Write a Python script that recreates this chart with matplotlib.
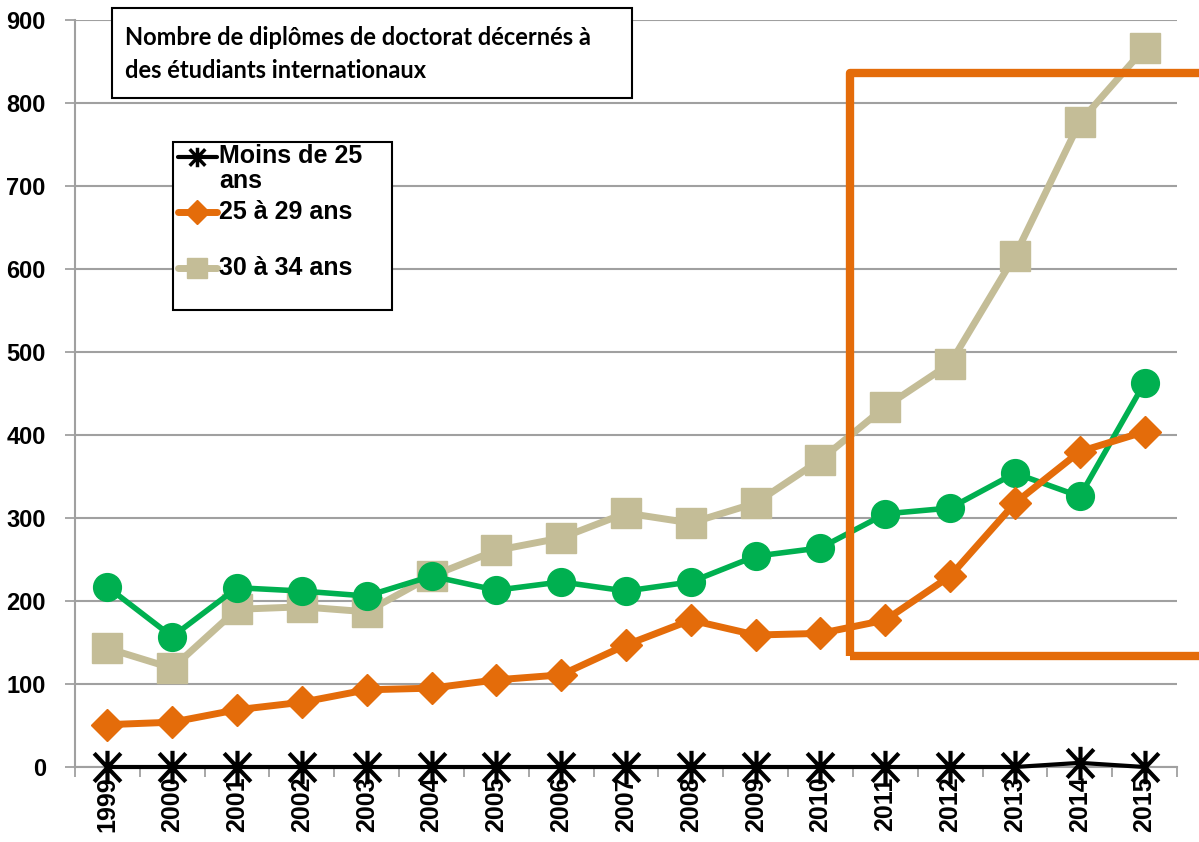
import matplotlib
matplotlib.use("Agg")
import matplotlib.pyplot as plt
from matplotlib.path import Path
from matplotlib.patches import Rectangle
from matplotlib.lines import Line2D

# données
annees = ['1999', '2000', '2001', '2002', '2003', '2004', '2005', '2006', '2007',
          '2008', '2009', '2010', '2011', '2012', '2013', '2014', '2015']
moins_25 = [0, 0, 0, 0, 0, 0, 0, 0, 0, 0, 0, 0, 0, 0, 0, 5, 0]
de_25_29 = [51, 54, 69, 78, 93, 95, 105, 111, 147, 177, 159, 161, 177, 230, 318, 380, 404]
de_30_34 = [143, 119, 190, 193, 187, 230, 261, 276, 306, 294, 318, 370, 434, 486, 616, 777, 866]
de_35_plus = [217, 157, 216, 212, 206, 230, 213, 223, 212, 223, 254, 264, 305, 312, 354, 326, 463]

VERT = '#00B050'
ORANGE = '#E46C0A'
BEIGE = '#C4BD97'
GRIS = '#A0A0A0'

plt.rcParams['font.family'] = ['Liberation Sans', 'DejaVu Sans']

# astérisque à 6 branches (style Excel)
etoile = Path([(0, -1), (0, 1), (-0.8, -0.85), (0.8, 0.85), (-0.8, 0.85), (0.8, -0.85)],
              [Path.MOVETO, Path.LINETO, Path.MOVETO, Path.LINETO, Path.MOVETO, Path.LINETO])

fig = plt.figure(figsize=(11.99, 8.42), dpi=100)
ax = fig.add_axes([75 / 1199, 1 - 767 / 842, 1102 / 1199, 747 / 842])

x = list(range(len(annees)))
ax.plot(x, de_30_34, color=BEIGE, lw=5, marker='s', ms=21, zorder=3)
ax.plot(x, de_35_plus, color=VERT, lw=4, marker='o', ms=20, zorder=4)
ax.plot(x, de_25_29, color=ORANGE, lw=5, marker='D', ms=16, zorder=5)
ax.plot(x, moins_25, color='black', lw=3, marker=etoile, ms=24, mew=3,
        mfc='none', mec='black', zorder=6, clip_on=False)

ax.set_xlim(-0.5, len(annees) - 0.5)
ax.set_ylim(0, 900)
ax.set_yticks(range(0, 901, 100))
ax.set_xticks(x)
ax.set_xticklabels(annees, rotation=90, fontsize=18, fontweight='bold')
ax.set_xticks([i - 0.5 for i in range(len(annees) + 1)], minor=True)
ax.tick_params(axis='x', which='major', length=0, pad=7)
ax.tick_params(axis='x', which='minor', length=7, color=GRIS, width=1.3)
ax.tick_params(axis='y', length=7, color=GRIS, width=1.3, labelsize=17, pad=14)
for lab in ax.get_yticklabels():
    lab.set_fontweight('bold')

ax.grid(axis='y', color=GRIS, lw=1.5)
ax.set_axisbelow(True)
for side in ['top', 'right']:
    ax.spines[side].set_visible(False)
ax.spines['left'].set_color(GRIS)
ax.spines['left'].set_linewidth(1.5)
ax.spines['bottom'].set_color(GRIS)
ax.spines['bottom'].set_linewidth(1.5)

# cadre de mise en évidence 2011-2015
cadre = Rectangle((11.46, 134), 6.5, 836 - 134, fill=False, ec=ORANGE, lw=6,
                  joinstyle='round', clip_on=False, zorder=7)
ax.add_patch(cadre)

# encadré du titre
fig.patches.append(Rectangle((112 / 1199, 1 - 98 / 842), 520 / 1199, 90 / 842,
                             transform=fig.transFigure, fill=True, fc='white',
                             ec='black', lw=1.5, zorder=8))
fig.text(125 / 1199, 1 - 54 / 842,
         'Nombre de diplômes de doctorat décernés à\ndes étudiants internationaux',
         fontsize=17, fontweight='bold', family=['Lato', 'DejaVu Sans'],
         va='center', ha='left', linespacing=1.5, zorder=9)

# légende
fig.patches.append(Rectangle((173 / 1199, 1 - 310 / 842), 219 / 1199, 168 / 842,
                             transform=fig.transFigure, fill=True, fc='white',
                             ec='black', lw=1.5, zorder=8))
entrees = [
    (157, 'Moins de 25\nans', 'black', etoile, 14, 2.5),
    (212, '25 à 29 ans', ORANGE, 'D', 12, 1),
    (268, '30 à 34 ans', BEIGE, 's', 14, 1),
]
for y_px, texte, couleur, marqueur, taille, epaisseur in entrees:
    yf = 1 - y_px / 842
    fig.add_artist(Line2D([178 / 1199, 217 / 1199], [yf, yf], transform=fig.transFigure,
                          color=couleur, lw=3 if couleur == 'black' else 5,
                          solid_capstyle='round', zorder=9))
    fig.add_artist(Line2D([197 / 1199], [yf], transform=fig.transFigure, ls='none',
                          color=couleur, marker=marqueur, ms=taille, mew=epaisseur,
                          mec=couleur, zorder=10))
    if '\n' in texte:
        fig.text(219 / 1199, yf + 13 / 842, texte, fontsize=18, fontweight='bold',
                 va='top', ha='left', linespacing=1.05, zorder=10)
    else:
        fig.text(219 / 1199, yf, texte, fontsize=18, fontweight='bold',
                 va='center', ha='left', zorder=10)

fig.savefig('out.png', dpi=100)
